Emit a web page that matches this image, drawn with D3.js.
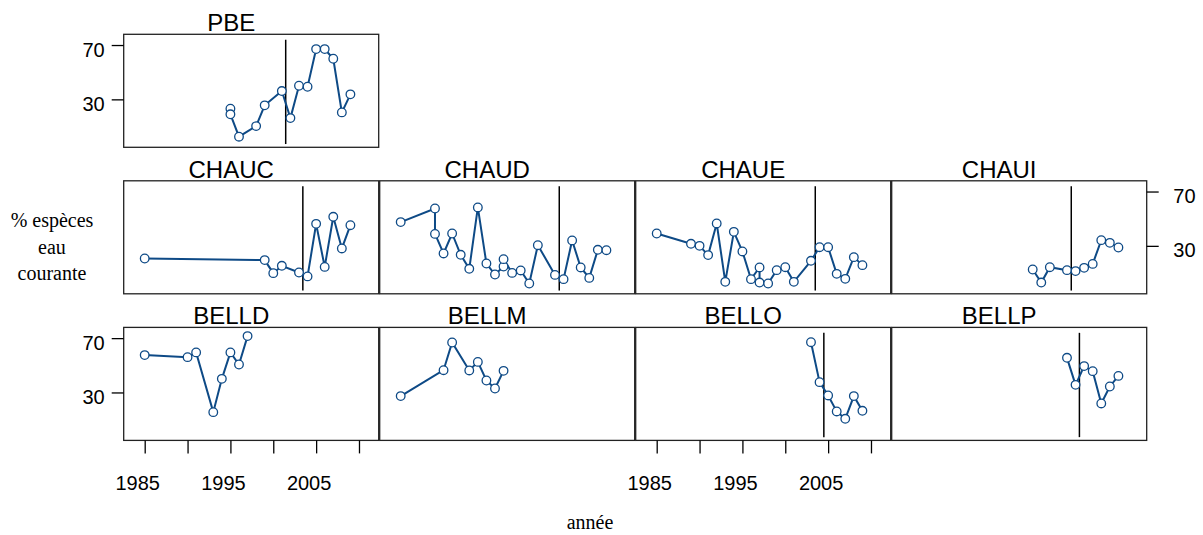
<!DOCTYPE html>
<html>
<head>
<meta charset="utf-8">
<script src="https://cdn.jsdelivr.net/npm/d3@7"></script>
<style>
  html, body { margin: 0; padding: 0; background: #fff; }
  svg { display: block; }
</style>
</head>
<body>
<svg id="chart" width="1203" height="535"></svg>
<script>
// ---------------- DATA ----------------
const pbeYears   = [1995, 1995, 1996, 1998, 1999, 2001, 2002, 2003, 2004, 2005, 2006, 2007, 2008, 2009];
const pbeValues  = [23.1, 19.0, 2.5, 10.3, 25.6, 36.1, 16.2, 40.0, 39.3, 67.0, 67.0, 59.9, 20.4, 33.7];

const chaucYears  = [1985, 1999, 2000, 2001, 2003, 2004, 2005, 2006, 2007, 2008, 2009];
const chaucValues = [20.7, 19.5, 9.9, 15.3, 10.4, 7.5, 46.2, 14.5, 51.4, 28.1, 45.2];

const chaudYears  = [1985, 1989, 1989, 1990, 1991, 1992, 1993, 1994, 1995, 1996, 1997, 1997, 1998, 1999, 2000, 2001, 2003, 2004, 2005, 2006, 2007, 2008, 2009];
const chaudValues = [47.5, 57.5, 38.8, 24.4, 39.1, 23.4, 13.1, 58.3, 17.0, 8.9, 14.8, 20.2, 10.1, 11.9, 2.3, 30.5, 8.6, 5.5, 34.0, 14.1, 6.4, 27.1, 26.8];

const chaueYears  = [1985, 1989, 1990, 1991, 1992, 1993, 1994, 1995, 1996, 1997, 1997, 1998, 1999, 2000, 2001, 2003, 2004, 2005, 2006, 2007, 2008, 2009];
const chaueValues = [39.1, 31.5, 30.0, 23.2, 46.5, 3.5, 40.3, 25.9, 5.5, 14.1, 3.0, 2.3, 12.1, 14.3, 3.5, 19.0, 29.0, 29.0, 9.4, 5.7, 21.7, 15.8];

const chauiYears  = [1999, 2000, 2001, 2003, 2004, 2005, 2006, 2007, 2008, 2009];
const chauiValues = [12.6, 3.0, 14.3, 12.1, 11.4, 13.8, 16.7, 34.2, 32.2, 28.8];

const belldYears  = [1985, 1990, 1991, 1993, 1994, 1995, 1996, 1997];
const belldValues = [57.5, 56.0, 59.5, 15.5, 40.0, 59.5, 50.6, 71.5];

const bellmYears  = [1985, 1990, 1991, 1993, 1994, 1995, 1996, 1997];
const bellmValues = [27.3, 46.4, 66.8, 46.2, 52.5, 38.8, 32.9, 45.9];

const belloYears  = [2003, 2004, 2005, 2006, 2007, 2008, 2009];
const belloValues = [67.0, 37.6, 27.8, 16.0, 10.6, 27.3, 16.5];

const bellpYears  = [2003, 2004, 2005, 2006, 2007, 2008, 2009];
const bellpValues = [55.5, 35.6, 49.4, 45.7, 21.9, 34.4, 42.2];

// panel names, grid slots (row, col) and reference (vertical) year; null = none
const panelNames = ["PBE", "CHAUC", "CHAUD", "CHAUE", "CHAUI", "BELLD", "BELLM", "BELLO", "BELLP"];
const panelRows  = [0, 1, 1, 1, 1, 2, 2, 2, 2];
const panelCols  = [0, 0, 1, 2, 3, 0, 1, 2, 3];
const refYears   = [2001.45, 2003.45, 2003.5, 2003.5, 2003.5, null, null, 2004.5, 2004.45];
const panelYears  = [pbeYears, chaucYears, chaudYears, chaueYears, chauiYears, belldYears, bellmYears, belloYears, bellpYears];
const panelValues = [pbeValues, chaucValues, chaudValues, chaueValues, chauiValues, belldValues, bellmValues, belloValues, bellpValues];

const xTickValues = [1985, 1990, 1995, 2000, 2005, 2010];
const xTickLabels = ["1985", "", "1995", "", "2005", ""];
const yTickValues = [30, 70];
const yLabelLines = ["% espèces", "eau", "courante"];
const xLabel = "année";

// ---------------- LAYOUT ----------------
const svg = d3.select("#chart");
const colLefts = [123.7, 379.7, 635.7, 891.7];
const rowTops  = [34.3, 180.8, 327.4];
const pw = 255, ph = 113;
const lineColor = "#0e4a86";
const sansFont = "'Liberation Sans', Arial, Helvetica, sans-serif";
const serifFont = "'Liberation Serif', 'Times New Roman', serif";

const x = d3.scaleLinear().domain([1982.55, 2012.3]).range([0, pw]);
const y = d3.scaleLinear().domain([-5.3, 77.9]).range([ph, 0]);
const refLow = -2.9, refHigh = 73.9;

panelNames.forEach((name, i) => {
  const g = svg.append("g")
    .attr("transform", `translate(${colLefts[panelCols[i]]},${rowTops[panelRows[i]]})`);

  // reference vertical line
  if (refYears[i] !== null) {
    g.append("line")
      .attr("x1", x(refYears[i])).attr("x2", x(refYears[i]))
      .attr("y1", y(refHigh)).attr("y2", y(refLow))
      .attr("stroke", "#000").attr("stroke-width", 1.5);
  }

  const pts = panelYears[i].map((yr, k) => [yr, panelValues[i][k]]);
  const line = d3.line().x(d => x(d[0])).y(d => y(d[1]));
  g.append("path").attr("d", line(pts))
    .attr("fill", "none").attr("stroke", lineColor).attr("stroke-width", 2);
  g.selectAll("circle").data(pts).enter().append("circle")
    .attr("cx", d => x(d[0])).attr("cy", d => y(d[1])).attr("r", 4.3)
    .attr("fill", "#fff").attr("stroke", lineColor).attr("stroke-width", 1.3);

  // frame
  g.append("rect").attr("x", 0).attr("y", 0).attr("width", pw).attr("height", ph)
    .attr("fill", "none").attr("stroke", "#222").attr("stroke-width", 1.3);

  // strip title
  g.append("text").attr("x", pw / 2 - 20).attr("y", -3)
    .attr("text-anchor", "middle")
    .style("font-family", sansFont).style("font-size", "24px").style("fill", "#000")
    .text(name);
});

function styleAxis(ax) {
  ax.select(".domain").remove();
  ax.selectAll(".tick line").attr("stroke", "#000").attr("stroke-width", 1.3);
  ax.selectAll(".tick text").style("font-family", sansFont).style("font-size", "20px").attr("fill", "#000");
}

// left axes (rows 0 and 2)
[0, 2].forEach(r => {
  const ax = svg.append("g").attr("transform", `translate(${colLefts[0]},${rowTops[r]})`)
    .call(d3.axisLeft(y).tickValues(yTickValues).tickSize(12).tickFormat(d3.format("d")));
  styleAxis(ax);
  ax.selectAll(".tick text").attr("x", -19).attr("dy", "11px");
});

// right axis (row 1)
{
  const ax = svg.append("g").attr("transform", `translate(${colLefts[3] + pw},${rowTops[1]})`)
    .call(d3.axisRight(y).tickValues(yTickValues).tickSize(12).tickFormat(d3.format("d")));
  styleAxis(ax);
  ax.selectAll(".tick text").attr("x", 26.6).attr("dy", "11px");
}

// bottom axes (columns 0 and 2)
[0, 2].forEach(c => {
  const ax = svg.append("g").attr("transform", `translate(${colLefts[c]},${rowTops[2] + ph})`)
    .call(d3.axisBottom(x).tickValues(xTickValues).tickSize(13).tickFormat((d, k) => xTickLabels[k]));
  styleAxis(ax);
  ax.selectAll(".tick text").attr("x", -7.5).attr("y", 50).attr("dy", "0");
});

// y label (three lines, serif)
const yl = svg.append("text").attr("text-anchor", "middle")
  .style("font-family", serifFont).style("font-size", "20px").style("fill", "#000");
yLabelLines.forEach((t, k) => {
  yl.append("tspan").attr("x", 52).attr("y", 227 + k * 26.5).text(t);
});

// x label
svg.append("text").attr("x", 590).attr("y", 529).attr("text-anchor", "middle")
  .style("font-family", serifFont).style("font-size", "20px").style("fill", "#000")
  .text(xLabel);
</script>
</body>
</html>
